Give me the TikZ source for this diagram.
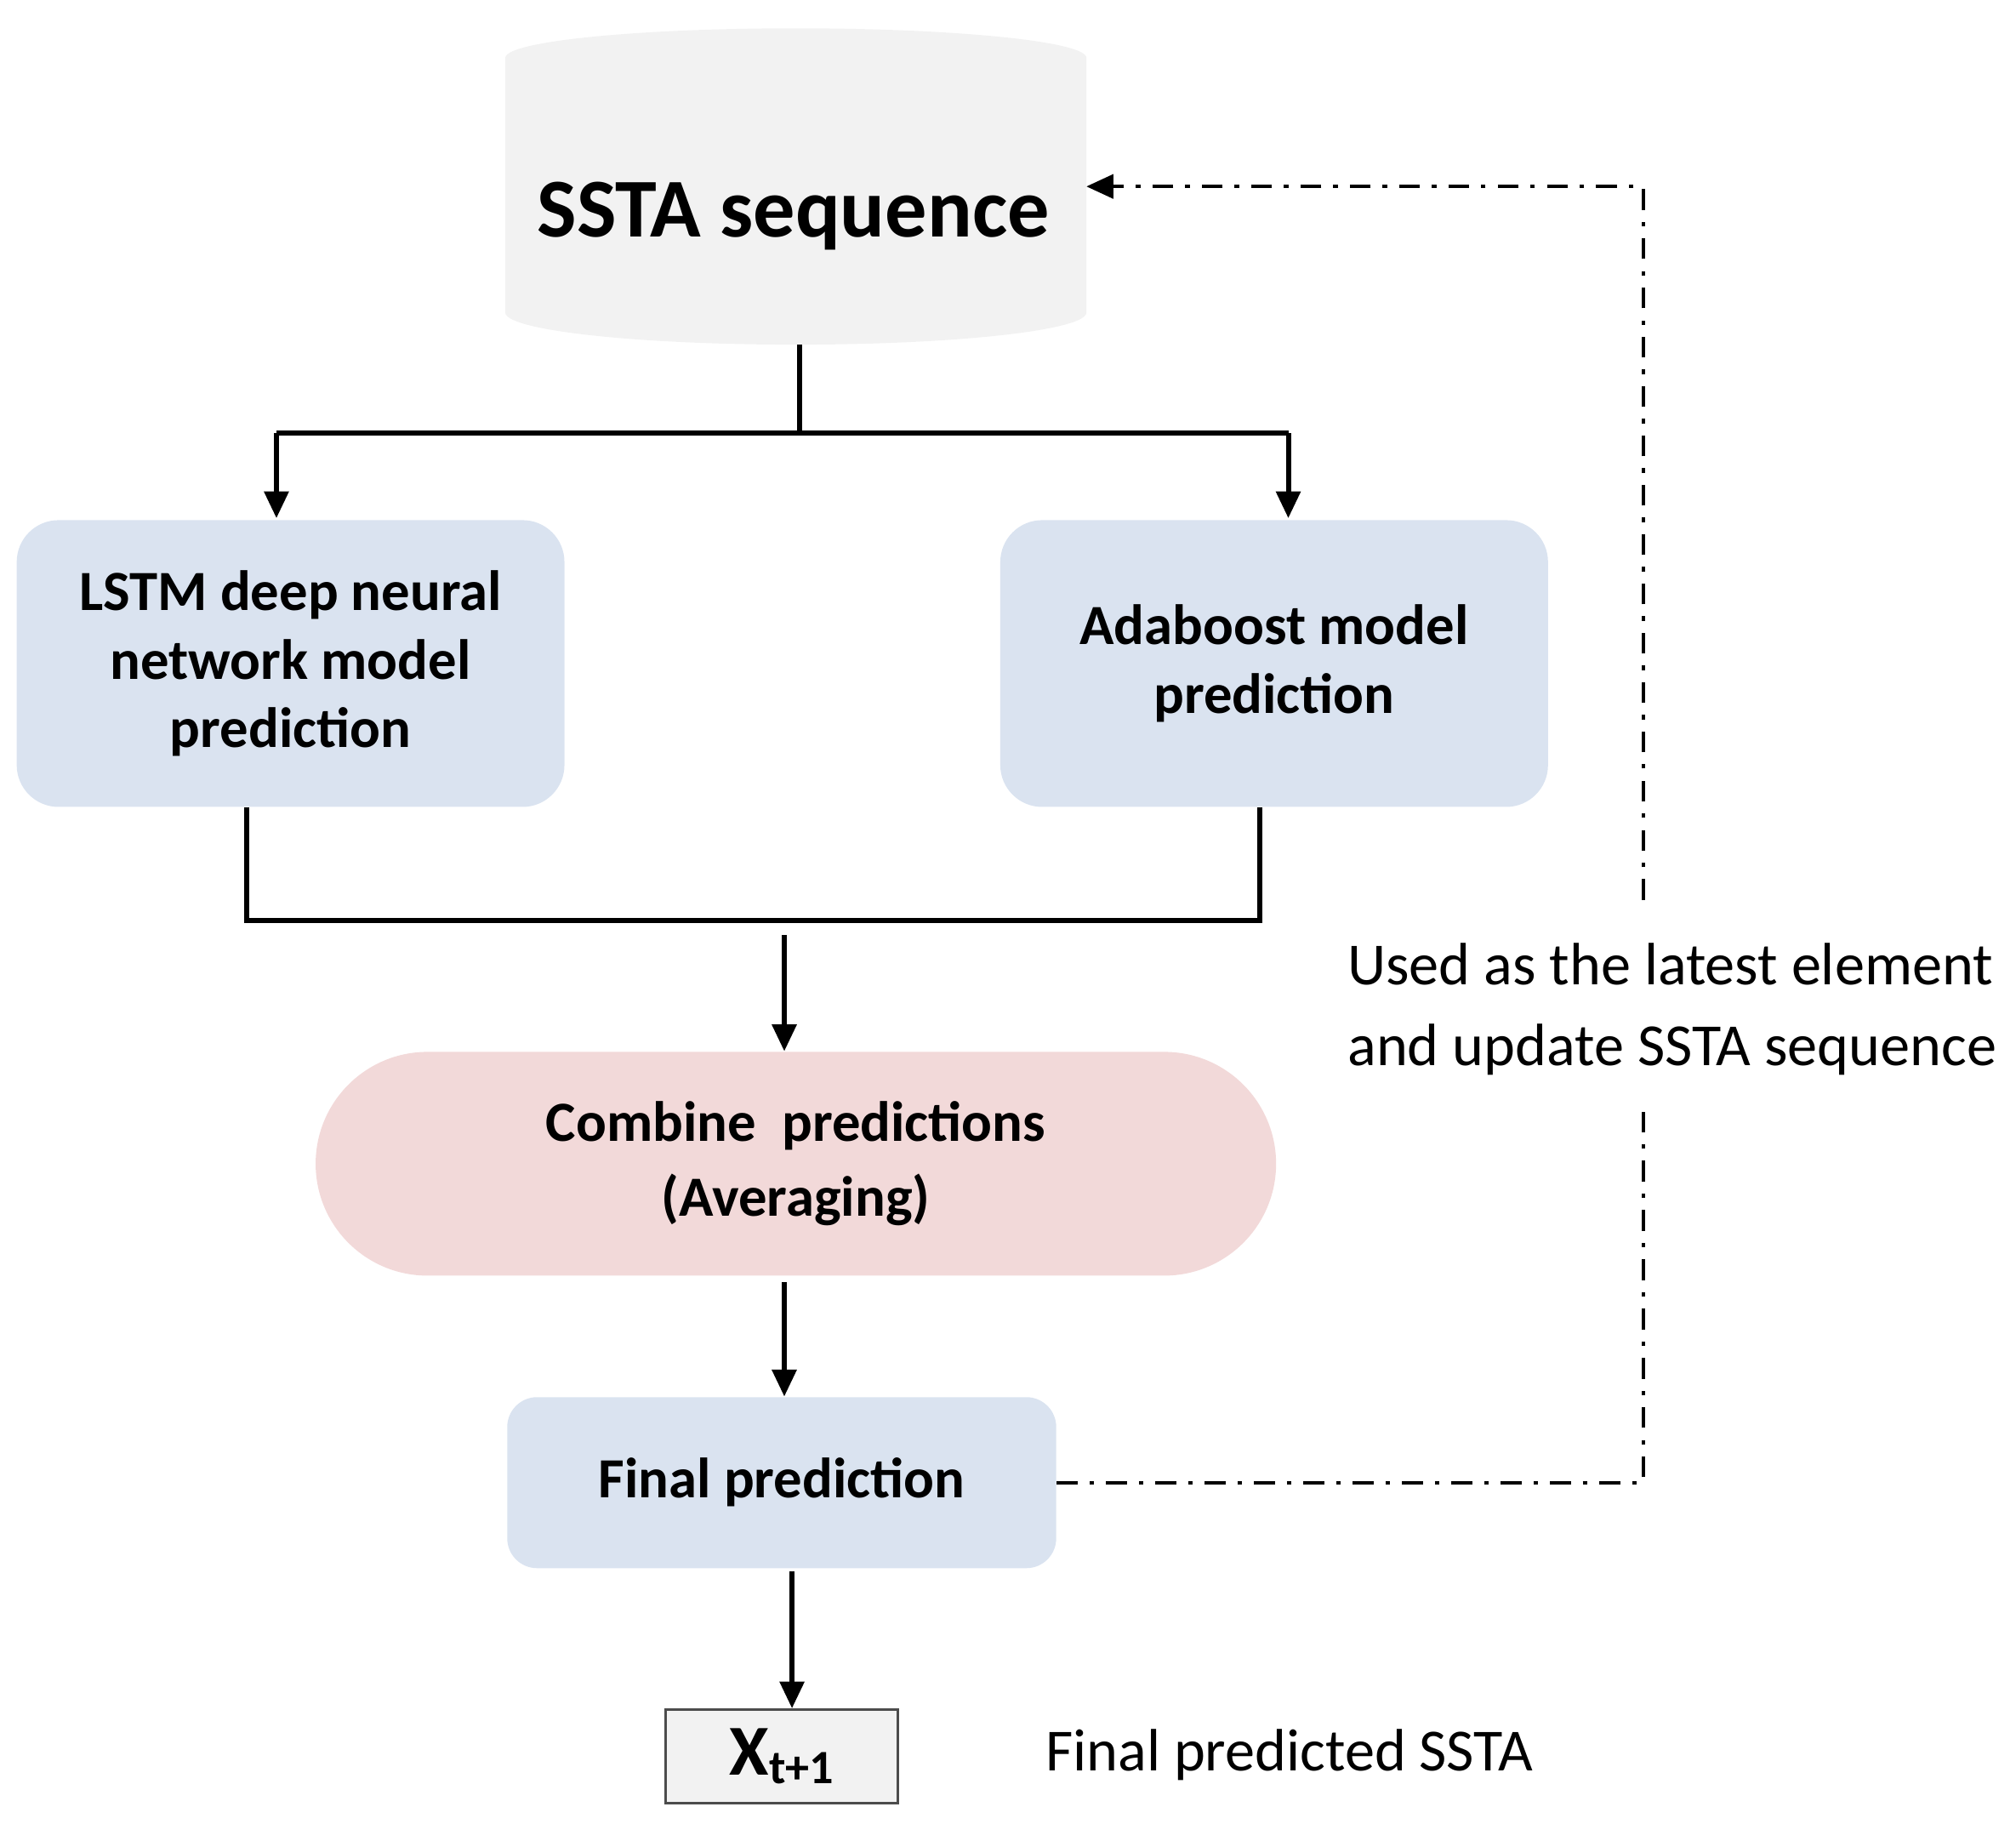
\documentclass[tikz,border=0pt]{standalone}
\usepackage{fontspec}
\setmainfont{Carlito}
\usetikzlibrary{arrows.meta}
\definecolor{bluebox}{HTML}{DAE3F0}
\definecolor{pinkbox}{HTML}{F2D9D9}
\definecolor{graybox}{HTML}{F2F2F2}
\begin{document}
\begin{tikzpicture}[x=0.015115cm,y=-0.015115cm,
  box/.style={draw=none,fill=bluebox,rounded corners=14pt,align=center,font=\fontsize{19}{23}\selectfont\bfseries,inner sep=0pt},
  conn/.style={line width=1.7pt},
  arr/.style={conn,-{Triangle[length=9pt,width=8pt]}},
  dd/.style={line width=1.1pt,dash pattern=on 7pt off 4pt on 1.5pt off 4pt}]
\useasboundingbox (0,0) rectangle (1568,1418);
% cylinder
\fill[graybox] (393,45) arc[start angle=180,end angle=360,x radius=226,y radius=23] -- (845,243) arc[start angle=0,end angle=180,x radius=226,y radius=25] -- cycle;
\node[font=\fontsize{28}{34}\selectfont\bfseries] (ssta) at (617,168) {SSTA sequence};
\coordinate (sb) at (622,268);
\coordinate (st) at (845,145);
\node[box,minimum width=426*0.015115cm,minimum height=223*0.015115cm] (lstm) at (226,516) {LSTM deep neural\\network model\\prediction};
\node[box,minimum width=426*0.015115cm,minimum height=223*0.015115cm] (ada) at (991,516) {Adaboost model\\prediction};
\node[fill=pinkbox,rounded corners=87*0.015115cm,minimum width=747*0.015115cm,minimum height=174*0.015115cm,align=center,font=\fontsize{19}{25}\selectfont\bfseries,inner sep=0pt] (comb) at (619,905) {Combine~ predictions\\(Averaging)};
\node[box,rounded corners=10pt,minimum width=427*0.015115cm,minimum height=133*0.015115cm] (fin) at (608,1153) {Final prediction};
\node[draw=black!70,line width=0.8pt,fill=graybox,minimum width=181*0.015115cm,minimum height=73*0.015115cm,inner sep=0pt,font=\fontsize{24}{28}\selectfont\bfseries] (x) at (608,1366) {X\raisebox{-0.25ex}{\fontsize{16}{18}\selectfont t+1}};
\node[anchor=west,font=\fontsize{20}{24}\selectfont] (fps) at (805,1365) {Final predicted SSTA};
\node[anchor=west,align=left,font=\fontsize{20}{27}\selectfont] (lab) at (1040,785) {Used as the latest element\\and update SSTA sequence};
% connectors
\draw[conn] (sb) -- (622,337);
\draw[arr] (215,337) -- (215,403);
\draw[arr] (1002,337) -- (1002,403);
\draw[conn] (215,337) -- (1002,337);
\draw[conn] (192,628) -- (192,716) -- (980,716) -- (980,628);
\draw[arr] (610,727) -- (comb.north -| 610,0);
\draw[arr] (610,997) -- (fin.north -| 610,0);
\draw[arr] (616,1222) -- (x.north -| 616,0);
\draw[dd] (fin.east) -- (1278,1153) -- (1278,865);
\draw[dd,-{Triangle[length=9pt,width=8pt]}] (1278,700) -- (1278,145) -- (st);
\end{tikzpicture}
\end{document}
